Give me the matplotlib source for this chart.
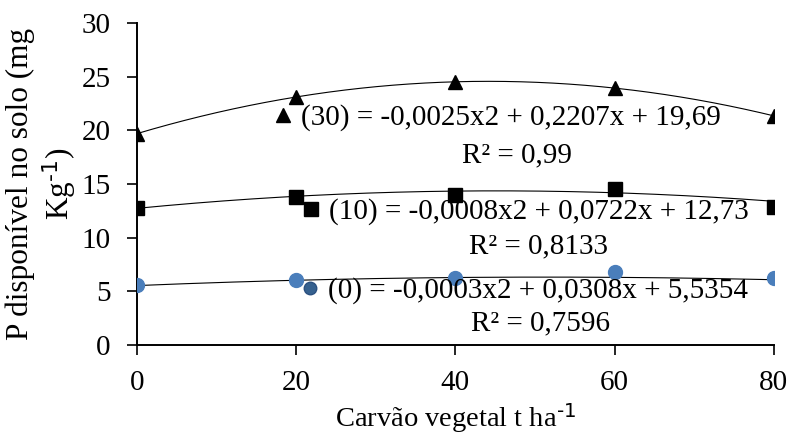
import matplotlib
matplotlib.use("Agg")
import matplotlib.pyplot as plt
from matplotlib.legend import Legend
import numpy as np

plt.rcParams['font.family'] = ['Liberation Serif', 'DejaVu Serif']
plt.rcParams['mathtext.default'] = 'regular'

# doses de carvão vegetal (t/ha)
carvao = [0, 20, 40, 60, 80]

# P disponível para cada dose de adubo (0, 10, 30)
p_0 = [5.6, 6.1, 6.2, 6.8, 6.2]
p_10 = [12.8, 13.8, 14.0, 14.5, 12.9]
p_30 = [19.7, 23.1, 24.5, 23.9, 21.3]

# coeficientes das linhas de tendência (a, b, c)
coef_0 = [-0.0003, 0.0308, 5.5354]
coef_10 = [-0.0008, 0.0722, 12.73]
coef_30 = [-0.0025, 0.2207, 19.69]

eq_0 = "(0) = -0,0003x2 + 0,0308x + 5,5354"
eq_10 = "(10) = -0,0008x2 + 0,0722x + 12,73"
eq_30 = "(30) = -0,0025x2 + 0,2207x + 19,69"
r2_0 = "R² = 0,7596"
r2_10 = "R² = 0,8133"
r2_30 = "R² = 0,99"

fig = plt.figure(figsize=(7.94, 4.37), dpi=100)
ax = fig.add_axes([0.1725, 0.2105, 0.802, 0.737])

xx = np.linspace(0, 80, 200)
for coef in (coef_0, coef_10, coef_30):
    ax.plot(xx, np.polyval(coef, xx), color='black', lw=0.8, zorder=2)

h0, = ax.plot(carvao, p_0, 'o', ms=10, color='#4A7EBB', ls='none', zorder=3)
h10, = ax.plot(carvao, p_10, 's', ms=10, color='black', ls='none', zorder=3)
h30, = ax.plot(carvao, p_30, '^', ms=10, color='black', ls='none', zorder=3)

leg_h0 = plt.Line2D([], [], marker='o', ms=9, ls='none',
                    markerfacecolor='#36618F', markeredgecolor='#2B5080')

# uma legenda para cada equação + R² embaixo
legs = [
    (h30, eq_30, (0.218, 0.705), r2_30, (0.597, 0.590)),
    (h10, eq_10, (0.262, 0.413), r2_10, (0.631, 0.307)),
    (leg_h0, eq_0, (0.261, 0.168), r2_0, (0.633, 0.068)),
]
for h, txt, pos, r2, r2pos in legs:
    lg = Legend(ax, [h], [txt], loc='center left', bbox_to_anchor=pos,
                frameon=False, fontsize=21, handlelength=0.5,
                handletextpad=0.35, borderpad=0, borderaxespad=0)
    ax.add_artist(lg)
    ax.text(r2pos[0], r2pos[1], r2, transform=ax.transAxes, fontsize=21,
            ha='center', va='center')

ax.set_xlim(0, 80)
ax.set_ylim(0, 30)
ax.set_xticks([0, 20, 40, 60, 80])
ax.set_yticks([0, 5, 10, 15, 20, 25, 30])
ax.tick_params(labelsize=21, length=7, width=1.2, direction='out')
ax.tick_params(axis='x', pad=11)
ax.tick_params(axis='y', pad=12)
for s in ['top', 'right']:
    ax.spines[s].set_visible(False)
for s in ['left', 'bottom']:
    ax.spines[s].set_linewidth(1.4)

ax.set_xlabel(r'Carvão vegetal t ha$^{\text{-1}}$', fontsize=20.5, labelpad=4)
ax.set_ylabel('P disponível no solo (mg\n' + r'Kg$^{\text{-1}}$)', fontsize=22.5,
              multialignment='center', labelpad=2)

plt.savefig('out.png', dpi=100)
